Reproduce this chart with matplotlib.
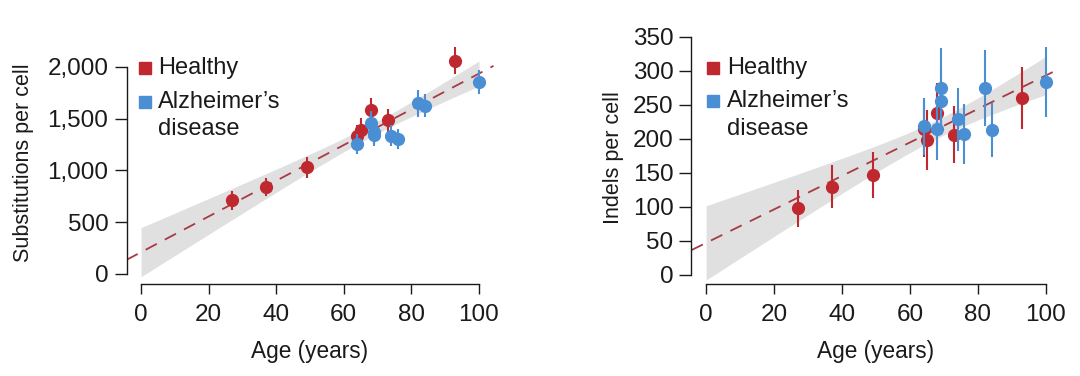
import numpy as np
import matplotlib
matplotlib.use("Agg")
import matplotlib.pyplot as plt

plt.rcParams['font.family'] = ['Liberation Sans', 'DejaVu Sans']

# data
healthyAge = [27, 37, 49, 64, 65, 68, 73, 93]
healthySubs = [710, 840, 1030, 1330, 1395, 1580, 1485, 2060]
healthySubsErr = [90, 90, 100, 110, 110, 120, 110, 130]
healthyIndels = [98, 130, 147, 214, 198, 238, 206, 260]
healthyIndelsErr = [27, 32, 34, 40, 44, 45, 42, 46]

adAge = [64, 68, 69, 69, 74, 76, 82, 84, 100]
adSubs = [1255, 1460, 1370, 1345, 1335, 1305, 1650, 1625, 1855]
adSubsErr = [100, 110, 110, 110, 100, 100, 130, 110, 120]
adIndels = [219, 215, 256, 275, 229, 207, 275, 213, 284]
adIndelsErr = [42, 46, 50, 59, 46, 44, 56, 40, 52]

redColor = '#c0282f'
blueColor = '#4a8fd3'
lineColor = '#a83a44'
textColor = '#1a1a1a'
tickSize = 17.5
labelSize = 16.3
legendSize = 17


def DrawPanel(ax, hy, hyErr, ay, ayErr, yTicks, yTickLabels, yLabel, yLabelSize, yLabelPad,
              ylim, legendPos):
    allX = np.array(healthyAge + adAge, dtype=float)
    allY = np.array(hy + ay, dtype=float)
    n = len(allX)
    slope, intercept = np.polyfit(allX, allY, 1)
    resid = allY - (intercept + slope * allX)
    s = np.sqrt(np.sum(resid ** 2) / (n - 2))
    xbar = allX.mean()
    sxx = np.sum((allX - xbar) ** 2)
    tval = 2.131  # t(0.975, df=15)

    # confidence band over 0..100
    xb = np.linspace(0, 100, 200)
    yb = intercept + slope * xb
    half = tval * s * np.sqrt(1.0 / n + (xb - xbar) ** 2 / sxx)
    ax.fill_between(xb, yb - half, yb + half, color='#d6d6d6', alpha=0.75, lw=0, zorder=1)

    xlim = (-4.3, 104.3)
    xl = np.array(xlim)
    ax.plot(xl, intercept + slope * xl, color=lineColor, lw=1.3, dashes=(7, 5), zorder=2)

    ax.errorbar(healthyAge, hy, yerr=hyErr, fmt='o', color=redColor, ms=8.5,
                elinewidth=1.5, capsize=0, zorder=3)
    ax.errorbar(adAge, ay, yerr=ayErr, fmt='o', color=blueColor, ms=8.5,
                elinewidth=1.5, capsize=0, zorder=4)

    ax.set_xlim(xlim)
    ax.set_ylim(ylim)
    ax.set_xticks([0, 20, 40, 60, 80, 100])
    ax.set_yticks(yTicks)
    ax.set_yticklabels(yTickLabels)
    ax.spines['top'].set_visible(False)
    ax.spines['right'].set_visible(False)
    ax.spines['left'].set_bounds(yTicks[0], yTicks[-1])
    ax.spines['bottom'].set_bounds(0, 100)
    for sp in ['left', 'bottom']:
        ax.spines[sp].set_linewidth(1.0)
        ax.spines[sp].set_color(textColor)
    ax.tick_params(width=1.0, color=textColor, labelsize=tickSize, labelcolor=textColor)
    ax.tick_params(axis='y', length=9, pad=4)
    ax.tick_params(axis='x', length=7.5, pad=7)
    ax.set_xlabel("Age (years)", fontsize=labelSize, color=textColor, labelpad=10)
    ax.set_ylabel(yLabel, fontsize=yLabelSize, color=textColor, labelpad=yLabelPad)

    # legend
    mx, tx, y1, y2 = legendPos
    ax.plot([mx], [y1], marker='s', ms=9, color=redColor, ls='none', transform=ax.transAxes, clip_on=False)
    ax.plot([mx], [y2], marker='s', ms=9, color=blueColor, ls='none', transform=ax.transAxes, clip_on=False)
    ax.text(tx, y1, "Healthy", transform=ax.transAxes, fontsize=legendSize, color=textColor,
            va='center', ha='left')
    ax.text(tx, y2, "Alzheimer\u2019s", transform=ax.transAxes, fontsize=legendSize, color=textColor,
            va='center', ha='left')
    ax.text(tx, y2 - 0.11, "disease", transform=ax.transAxes, fontsize=legendSize, color=textColor,
            va='center', ha='left')


fig = plt.figure(figsize=(10.8, 3.76), dpi=100)
ax1 = fig.add_axes([126.5 / 1080, 1 - 284.3 / 376, 367 / 1080, 243.2 / 376])
ax2 = fig.add_axes([691.5 / 1080, 1 - 284.3 / 376, 369 / 1080, 254.1 / 376])

DrawPanel(ax1, healthySubs, healthySubsErr, adSubs, adSubsErr,
          [0, 500, 1000, 1500, 2000], ['0', '500', '1,000', '1,500', '2,000'],
          "Substitutions per cell", 15.5, 10, (-100, 2250), (0.050, 0.086, 0.889, 0.750))
DrawPanel(ax2, healthyIndels, healthyIndelsErr, adIndels, adIndelsErr,
          [0, 50, 100, 150, 200, 250, 300, 350], ['0', '50', '100', '150', '200', '250', '300', '350'],
          "Indels per cell", 15.5, 6, (-13.7, 360), (0.059, 0.097, 0.853, 0.721))

fig.savefig("out.png", dpi=100)
